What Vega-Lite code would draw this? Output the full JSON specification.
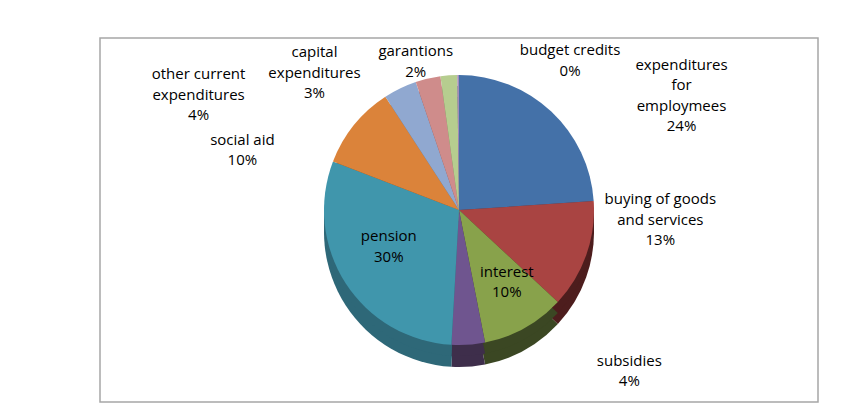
{
  "$schema": "https://vega.github.io/schema/vega-lite/v6.json",
  "width": 718,
  "height": 364,
  "autosize": "none",
  "padding": {"left": 100, "top": 38, "right": 40, "bottom": 10},
  "background": "#ffffff",
  "view": {"stroke": "#a6a6a6", "strokeWidth": 1.5, "fill": "#ffffff"},
  "data": {
    "values": [
      {"idx": 1, "cat": "expenditures for employmees", "value": 24, "label": "expenditures\nfor\nemploymees\n24%"},
      {"idx": 2, "cat": "buying of goods and services", "value": 13, "label": "buying of goods\nand services\n13%"},
      {"idx": 3, "cat": "interest", "value": 10, "label": "interest\n10%"},
      {"idx": 4, "cat": "subsidies", "value": 4, "label": "subsidies\n4%"},
      {"idx": 5, "cat": "pension", "value": 30, "label": "pension\n30%"},
      {"idx": 6, "cat": "social aid", "value": 10, "label": "social aid\n10%"},
      {"idx": 7, "cat": "other current expenditures", "value": 4, "label": "other current\nexpenditures\n4%"},
      {"idx": 8, "cat": "capital expenditures", "value": 3, "label": "capital\nexpenditures\n3%"},
      {"idx": 9, "cat": "garantions", "value": 2, "label": "garantions\n2%"},
      {"idx": 10, "cat": "budget credits", "value": 0.2, "label": "budget credits\n0%"}
    ]
  },
  "resolve": {"scale": {"color": "independent"}},
  "layer": [
    {
      "mark": {"type": "arc", "radius": 135, "yOffset": 12},
      "encoding": {
        "theta": {"field": "value", "type": "quantitative", "stack": true},
        "order": {"field": "idx", "type": "quantitative"},
        "color": {"field": "cat", "type": "nominal", "legend": null,
          "scale": {"domain": ["expenditures for employmees","buying of goods and services","interest","subsidies","pension","social aid","other current expenditures","capital expenditures","garantions","budget credits"],
                    "range": ["#2A4668","#4D1D1D","#3B4723","#3E2E4B","#2E6878","#8A4F1F","#5A6A85","#7F5453","#6F7F55","#5F527A"]}}
      }
    },
    {
      "mark": {"type": "arc", "radius": 135, "yOffset": 1},
      "encoding": {
        "theta": {"field": "value", "type": "quantitative", "stack": true},
        "order": {"field": "idx", "type": "quantitative"},
        "color": {"field": "cat", "type": "nominal", "legend": null,
          "scale": {"domain": ["expenditures for employmees","buying of goods and services","interest","subsidies","pension","social aid","other current expenditures","capital expenditures","garantions","budget credits"],
                    "range": ["#2A4668","#4D1D1D","#3B4723","#3E2E4B","#2E6878","#8A4F1F","#5A6A85","#7F5453","#6F7F55","#5F527A"]}}
      }
    },
    {
      "mark": {"type": "arc", "radius": 135, "yOffset": -10},
      "encoding": {
        "theta": {"field": "value", "type": "quantitative", "stack": true},
        "order": {"field": "idx", "type": "quantitative"},
        "color": {"field": "cat", "type": "nominal", "legend": null,
          "scale": {"domain": ["expenditures for employmees","buying of goods and services","interest","subsidies","pension","social aid","other current expenditures","capital expenditures","garantions","budget credits"],
                    "range": ["#4471A8","#A94442","#88A24B","#6F558F","#4096AC","#DB833A","#90A8D0","#CF8C8B","#B6CD8F","#A08BBA"]}}
      }
    },
    {
      "mark": {"type": "text", "radius": 150, "yOffset": -14, "dx": 120, "dy": -32, "font": "Open Sans", "fontSize": 15, "lineHeight": 20.5, "lineBreak": "\n", "fill": "#000000"},
      "encoding": {
        "theta": {"field": "value", "type": "quantitative", "stack": true},
        "order": {"field": "idx", "type": "quantitative"},
        "detail": {"field": "cat", "type": "nominal"},
        "text": {"condition": {"test": "datum.idx === 1", "field": "label"}, "value": ""}
      }
    },
    {
      "mark": {"type": "text", "radius": 150, "yOffset": -14, "dx": 60, "dy": -57, "font": "Open Sans", "fontSize": 15, "lineHeight": 20.5, "lineBreak": "\n", "fill": "#000000"},
      "encoding": {
        "theta": {"field": "value", "type": "quantitative", "stack": true},
        "order": {"field": "idx", "type": "quantitative"},
        "detail": {"field": "cat", "type": "nominal"},
        "text": {"condition": {"test": "datum.idx === 2", "field": "label"}, "value": ""}
      }
    },
    {
      "mark": {"type": "text", "radius": 88, "yOffset": -10, "dx": 5, "dy": -15, "font": "Open Sans", "fontSize": 15, "lineHeight": 20.5, "lineBreak": "\n", "fill": "#000000"},
      "encoding": {
        "theta": {"field": "value", "type": "quantitative", "stack": true},
        "order": {"field": "idx", "type": "quantitative"},
        "detail": {"field": "cat", "type": "nominal"},
        "text": {"condition": {"test": "datum.idx === 3", "field": "label"}, "value": ""}
      }
    },
    {
      "mark": {"type": "text", "radius": 150, "yOffset": -14, "dx": 160, "dy": 5, "font": "Open Sans", "fontSize": 15, "lineHeight": 20.5, "lineBreak": "\n", "fill": "#000000"},
      "encoding": {
        "theta": {"field": "value", "type": "quantitative", "stack": true},
        "order": {"field": "idx", "type": "quantitative"},
        "detail": {"field": "cat", "type": "nominal"},
        "text": {"condition": {"test": "datum.idx === 4", "field": "label"}, "value": ""}
      }
    },
    {
      "mark": {"type": "text", "radius": 80, "yOffset": -10, "dx": -3, "dy": -17, "font": "Open Sans", "fontSize": 15, "lineHeight": 20.5, "lineBreak": "\n", "fill": "#000000"},
      "encoding": {
        "theta": {"field": "value", "type": "quantitative", "stack": true},
        "order": {"field": "idx", "type": "quantitative"},
        "detail": {"field": "cat", "type": "nominal"},
        "text": {"condition": {"test": "datum.idx === 5", "field": "label"}, "value": ""}
      }
    },
    {
      "mark": {"type": "text", "radius": 150, "yOffset": -14, "dx": -100, "dy": 28, "font": "Open Sans", "fontSize": 15, "lineHeight": 20.5, "lineBreak": "\n", "fill": "#000000"},
      "encoding": {
        "theta": {"field": "value", "type": "quantitative", "stack": true},
        "order": {"field": "idx", "type": "quantitative"},
        "detail": {"field": "cat", "type": "nominal"},
        "text": {"condition": {"test": "datum.idx === 6", "field": "label"}, "value": ""}
      }
    },
    {
      "mark": {"type": "text", "radius": 150, "yOffset": -14, "dx": -195, "dy": 3, "font": "Open Sans", "fontSize": 15, "lineHeight": 20.5, "lineBreak": "\n", "fill": "#000000"},
      "encoding": {
        "theta": {"field": "value", "type": "quantitative", "stack": true},
        "order": {"field": "idx", "type": "quantitative"},
        "detail": {"field": "cat", "type": "nominal"},
        "text": {"condition": {"test": "datum.idx === 7", "field": "label"}, "value": ""}
      }
    },
    {
      "mark": {"type": "text", "radius": 150, "yOffset": -14, "dx": -110, "dy": -8, "font": "Open Sans", "fontSize": 15, "lineHeight": 20.5, "lineBreak": "\n", "fill": "#000000"},
      "encoding": {
        "theta": {"field": "value", "type": "quantitative", "stack": true},
        "order": {"field": "idx", "type": "quantitative"},
        "detail": {"field": "cat", "type": "nominal"},
        "text": {"condition": {"test": "datum.idx === 8", "field": "label"}, "value": ""}
      }
    },
    {
      "mark": {"type": "text", "radius": 150, "yOffset": -14, "dx": -32, "dy": -5, "font": "Open Sans", "fontSize": 15, "lineHeight": 20.5, "lineBreak": "\n", "fill": "#000000"},
      "encoding": {
        "theta": {"field": "value", "type": "quantitative", "stack": true},
        "order": {"field": "idx", "type": "quantitative"},
        "detail": {"field": "cat", "type": "nominal"},
        "text": {"condition": {"test": "datum.idx === 9", "field": "label"}, "value": ""}
      }
    },
    {
      "mark": {"type": "text", "radius": 150, "yOffset": -14, "dx": 112, "dy": -6, "font": "Open Sans", "fontSize": 15, "lineHeight": 20.5, "lineBreak": "\n", "fill": "#000000"},
      "encoding": {
        "theta": {"field": "value", "type": "quantitative", "stack": true},
        "order": {"field": "idx", "type": "quantitative"},
        "detail": {"field": "cat", "type": "nominal"},
        "text": {"condition": {"test": "datum.idx === 10", "field": "label"}, "value": ""}
      }
    }
  ]
}
